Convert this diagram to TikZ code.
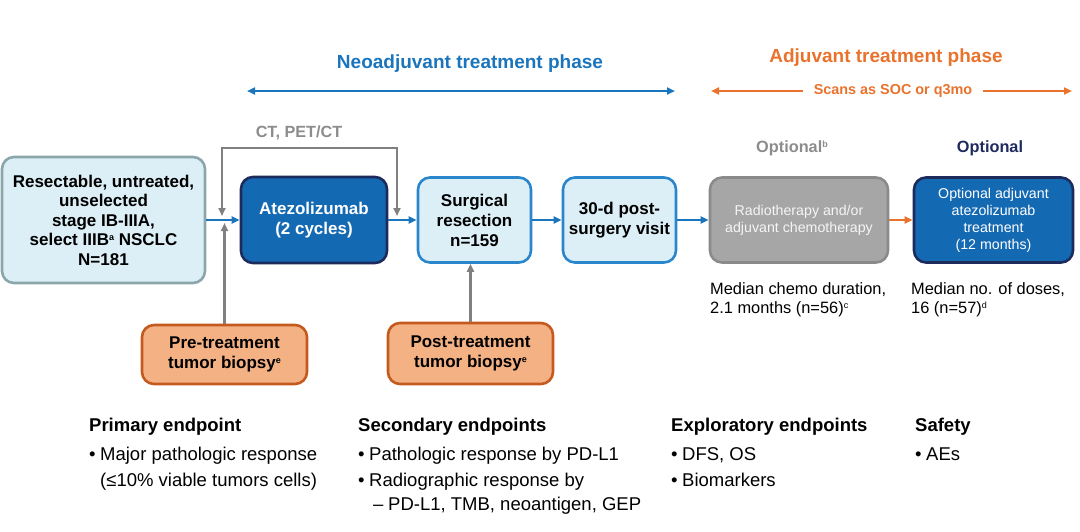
\documentclass[tikz,border=0pt]{standalone}
\usepackage{fontspec}
\setmainfont{Liberation Sans}
\usetikzlibrary{arrows.meta}
\definecolor{neoblue}{HTML}{1B75BC}
\definecolor{adjorange}{HTML}{E9722C}
\definecolor{darkfill}{HTML}{1469B3}
\definecolor{darkedge}{HTML}{1C2B5C}
\definecolor{lightfill}{HTML}{DCEFF6}
\definecolor{lightedge}{HTML}{2A86CC}
\definecolor{tealedge}{HTML}{8AA6AB}
\definecolor{grayfill}{HTML}{A6A6A6}
\definecolor{grayedge}{HTML}{8A8A8A}
\definecolor{graytext}{HTML}{8C8C8C}
\definecolor{grayline}{HTML}{808080}
\definecolor{biopfill}{HTML}{F4B183}
\definecolor{biopedge}{HTML}{C55A1E}
\definecolor{navytext}{HTML}{1F2A5E}
\newcommand\fsz[2]{\fontsize{#1}{#2}\selectfont}
\newcommand\supmark[1]{\raisebox{0.6ex}{\fontsize{9}{10}\selectfont #1}}
\begin{document}
\begin{tikzpicture}[x=1pt,y=-1pt,
  box/.style={draw, line width=2.6pt, rounded corners=12pt, align=center, inner sep=0pt},
  lightbox/.style={box, fill=lightfill, draw=lightedge, text=black, font=\fsz{17}{20}\bfseries},
  darkbox/.style={box, fill=darkfill, draw=darkedge},
  biopbox/.style={box, fill=biopfill, draw=biopedge, text=black, font=\fsz{17}{20}\bfseries},
  tip/.style={Triangle[length=8pt,width=7pt]},
  bluearrow/.style={draw=neoblue, line width=2.4pt, -{Triangle[length=8pt,width=7pt]}},
  orangearrow/.style={draw=adjorange, line width=2.4pt, -{Triangle[length=8pt,width=7pt]}},
  grayarrow/.style={draw=grayline, line width=2.4pt, -{Triangle[length=8pt,width=7pt]}},
  body/.style={anchor=base west, inner sep=0pt, font=\fsz{18.5}{22}},
  head/.style={anchor=base west, inner sep=0pt, font=\fsz{18.5}{22}\bfseries}
]
\useasboundingbox (0,0) rectangle (1080,531);

% phase headings
\node[font=\fsz{19}{22}\bfseries, text=neoblue] (neotitle) at (470,64) {Neoadjuvant treatment phase};
\node[font=\fsz{19}{22}\bfseries, text=adjorange] (adjtitle) at (886,58) {Adjuvant treatment phase};
\coordinate (neoL) at (247,91);
\coordinate (neoR) at (675,91);
\draw[draw=neoblue, line width=2.4pt, {Triangle[length=8pt,width=7pt]}-{Triangle[length=8pt,width=7pt]}] (neoL) -- (neoR);
\node[font=\fsz{14.4}{17}\bfseries, text=adjorange, inner xsep=11pt, inner ysep=0pt] (scans) at (893,91) {Scans as SOC or q3mo};
\coordinate (adjL) at (711,91);
\coordinate (adjR) at (1072,91);
\draw[orangearrow] (scans.west) -- (adjL);
\draw[orangearrow] (scans.east) -- (adjR);

% main boxes
\node[box, fill=lightfill, draw=tealedge, text=black, font=\fsz{17}{19.5}\bfseries,
  minimum width=203pt, minimum height=126pt] (pop) at (103.5,220)
  {Resectable, untreated,\\ unselected\\ stage IB-IIIA,\\ select IIIB\supmark{a} NSCLC\\ N=181};
\node[darkbox, text=white, font=\fsz{17}{20}\bfseries, minimum width=146pt, minimum height=86pt] (atezo) at (314,220)
  {Atezolizumab\\ (2 cycles)};
\node[lightbox, minimum width=113pt, minimum height=85pt] (surg) at (474.5,220)
  {Surgical\\ resection\\ n=159};
\node[lightbox, minimum width=113pt, minimum height=85pt] (visit) at (619.5,220)
  {30-d post-\\ surgery visit};
\node[box, fill=grayfill, draw=grayedge, text=white!96!black, font=\fsz{14.2}{17},
  minimum width=178pt, minimum height=85pt] (radio) at (799,220)
  {Radiotherapy and/or\\ adjuvant chemotherapy};
\node[darkbox, text=white, font=\fsz{14.2}{17}, minimum width=159pt, minimum height=85pt] (optatezo) at (993.5,220)
  {Optional adjuvant\\ atezolizumab\\ treatment\\ (12 months)};

\node[font=\fsz{16.3}{19}\bfseries, text=graytext] (optb) at (792,148) {Optional\supmark{b}};
\node[font=\fsz{16.3}{19}\bfseries, text=navytext] (optn) at (990,148) {Optional};

% biopsies
\node[biopbox, minimum width=165pt, minimum height=59pt] (pre) at (224.5,354.5)
  {Pre-treatment\\ tumor biopsy\supmark{e}};
\node[biopbox, minimum width=165pt, minimum height=61pt] (post) at (470.5,353.5)
  {Post-treatment\\ tumor biopsy\supmark{e}};

% main flow arrows
\draw[bluearrow] (pop.east) -- (atezo.west);
\draw[bluearrow] (atezo.east) -- (surg.west);
\draw[bluearrow] (surg.east) -- (visit.west);
\draw[bluearrow] (visit.east) -- (radio.west);
\draw[orangearrow] (radio.east) -- (optatezo.west);

% CT loop
\node[font=\fsz{16.2}{19}\bfseries, text=graytext] (ctlabel) at (299,133) {CT, PET/CT};
\coordinate (ctl) at (222,216);
\coordinate (ctr) at (397,216);
\coordinate (cttop) at (300,148);
\draw[draw=grayline, line width=2.4pt, {Triangle[length=8pt,width=7pt]}-{Triangle[length=8pt,width=7pt]}]
  (ctl) |- (cttop) -| (ctr);

% biopsy arrows
\coordinate (prejoin) at (224,223);
\draw[grayarrow] (pre.north) -- (pre.north |- prejoin);
\draw[grayarrow] (post.north) -- (post.north |- surg.south);

% median texts
\node[anchor=west, align=left, inner sep=0pt, font=\fsz{16.4}{19}] (chemo) at (710,299.5)
  {Median chemo duration,\\ 2.1 months (n=56)\supmark{c}};
\node[anchor=west, align=left, inner sep=0pt, font=\fsz{16.4}{19}] (doses) at (911,299.5)
  {Median no. of doses,\\ 16 (n=57)\supmark{d}};

% endpoints
\node[head] (h1) at (89,431) {Primary endpoint};
\node[body] (p1) at (89,460) {\makebox[11pt][l]{•}Major pathologic response};
\node[body] (p2) at (100,486) {(≤10\% viable tumors cells)};

\node[head] (h2) at (358,431) {Secondary endpoints};
\node[body] (s1) at (358,460) {\makebox[11pt][l]{•}Pathologic response by PD-L1};
\node[body] (s2) at (358,486) {\makebox[11pt][l]{•}Radiographic response by};
\node[body] (s3) at (373,510) {\makebox[15pt][l]{–}PD-L1, TMB, neoantigen, GEP};

\node[head] (h3) at (671,431) {Exploratory endpoints};
\node[body] (e1) at (671,460) {\makebox[11pt][l]{•}DFS, OS};
\node[body] (e2) at (671,486) {\makebox[11pt][l]{•}Biomarkers};

\node[head] (h4) at (915,431) {Safety};
\node[body] (f1) at (915,460) {\makebox[11pt][l]{•}AEs};
\end{tikzpicture}
\end{document}
